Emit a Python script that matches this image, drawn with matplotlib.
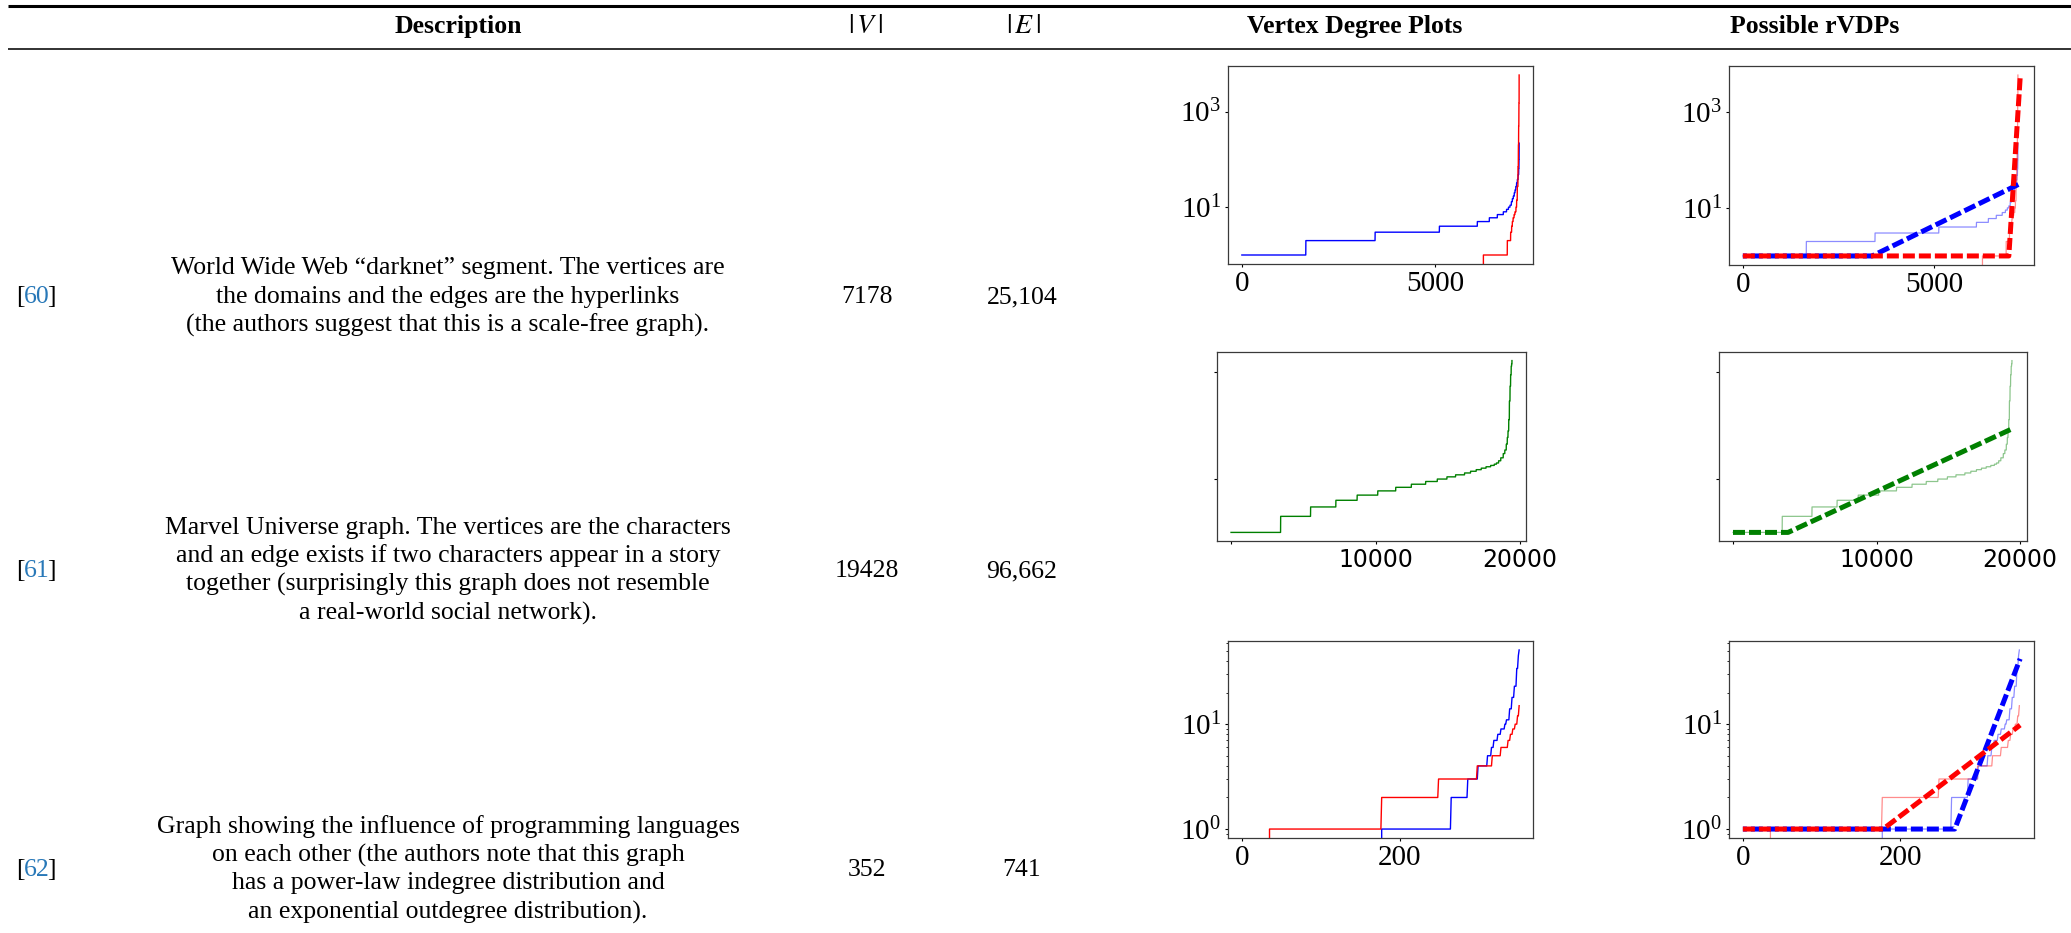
import numpy as np
import matplotlib
matplotlib.use("Agg")
import matplotlib.pyplot as plt
from matplotlib.ticker import NullLocator, NullFormatter, LogLocator

W, H, DPI = 2071, 933, 100

plt.rcParams['font.family'] = ['Liberation Serif', 'DejaVu Serif']
plt.rcParams['mathtext.fontset'] = 'stix'

# ---------------- table text ----------------
headers = ['Description', r'$|\,V\,|$', r'$|\,E\,|$', 'Vertex Degree Plots', 'Possible rVDPs']
refs = ['60', '61', '62']
descriptions = [
    ['World Wide Web \u201cdarknet\u201d segment. The vertices are',
     'the domains and the edges are the hyperlinks',
     '(the authors suggest that this is a scale-free graph).'],
    ['Marvel Universe graph. The vertices are the characters',
     'and an edge exists if two characters appear in a story',
     'together (surprisingly this graph does not resemble',
     'a real-world social network).'],
    ['Graph showing the influence of programming languages',
     'on each other (the authors note that this graph',
     'has a power-law indegree distribution and',
     'an exponential outdegree distribution).'],
]
n_vertices = ['7178', '19428', '352']
n_edges = ['25,104', '96,662', '741']

# ---------------- degree sequences (first index of each run, degree) ----------------
darknet_n = 7178
darknet_blue_idx = [0, 1655, 3448, 5112, 6094, 6405, 6612, 6767, 6850, 6900, 6940, 6975,
                    7000, 7025, 7050, 7070, 7090, 7110, 7130, 7150, 7165, 7172, 7176]
darknet_blue_deg = [1, 2, 3, 4, 5, 6, 7, 8, 9, 10, 11, 13,
                    15, 17, 20, 23, 27, 32, 38, 48, 65, 100, 218]
darknet_red_idx = [0, 6250, 6870, 6956, 6982, 7000, 7020, 7045, 7068, 7094, 7111,
                   7128, 7146, 7156, 7163, 7170, 7177]
darknet_red_deg = [0, 1, 2, 3, 4, 5, 6, 7, 8, 10, 14,
                   27, 70, 200, 500, 1500, 5800]
darknet_fit_blue_x = [0, 3373, 7235]
darknet_fit_blue_y = [1, 1, 32]
darknet_fit_red_x = [0, 6940, 7235]
darknet_fit_red_y = [1, 1, 5000]

marvel_n = 19428
marvel_idx = [0, 3425, 5497, 7245, 8717, 10143, 11385, 12466, 13455, 14260, 14927,
              15525, 16146, 16560, 16951, 17300, 17630, 17950, 18200, 18350, 18500,
              18650, 18820, 18930, 19030, 19100, 19150, 19200, 19245, 19290, 19330,
              19370, 19400, 19427]
marvel_deg = [1, 2, 3, 4, 5, 6, 7, 8, 9, 10, 11,
              12, 13, 14, 15, 16, 17, 18, 19, 20, 22,
              25, 30, 35, 45, 60, 80, 130, 290, 550, 900,
              1300, 1450, 1660]
marvel_fit_x = [0, 3837, 19500]
marvel_fit_y = [1, 1, 89]

plang_n = 352
plang_blue_idx = [0, 177, 265, 286, 299, 311, 316, 319, 324, 328, 333, 335, 339, 342, 345, 348, 350, 351]
plang_blue_deg = [0, 1, 2, 3, 4, 5, 6, 7, 8, 9, 10, 11, 14, 18, 23, 34, 45, 51]
plang_red_idx = [0, 35, 177, 249, 298, 317, 328, 337, 340, 343, 346, 349, 351]
plang_red_deg = [0, 1, 2, 3, 4, 5, 6, 7, 8, 9, 10, 12, 15]
plang_fit_blue_x = [0, 269, 352]
plang_fit_blue_y = [1, 1, 42]
plang_fit_red_x = [0, 178, 352]
plang_fit_red_y = [1, 1, 9.8]


def expand(idx, deg, n):
    counts = np.diff(list(idx) + [n])
    return np.repeat(deg, counts)


# ---------------- figure & table frame ----------------
fig = plt.figure(figsize=(W / DPI, H / DPI), dpi=DPI)
bg = fig.add_axes([0, 0, 1, 1])
bg.set_xlim(0, W)
bg.set_ylim(H, 0)
bg.axis('off')

bg.plot([8, W], [5.5, 5.5], color='black', lw=2.2, solid_capstyle='butt')
bg.plot([8, W], [48.5, 48.5], color='#222222', lw=1.3, solid_capstyle='butt')

TFONT = 'Liberation Serif'
TSIZE = 18.5
header_x = [458, 865, 1023, 1355, 1815]
header_size = [18.5, 20, 20, 18.5, 18.5]
for hx, htxt, hs in zip(header_x, headers, header_size):
    bg.text(hx, 33, htxt, ha='center', va='baseline', fontfamily=TFONT,
            fontweight='bold', fontsize=hs)

ref_x, desc_x, v_x, e_x = 37, 448, 867, 1022
row_line_y = [[268, 297, 325], [528, 556, 584, 613], [827, 855, 883, 912]]
row_mid_y = [297, 571, 870]
link_color = '#2878b8'

for i in range(3):
    for ly, line in zip(row_line_y[i], descriptions[i]):
        bg.text(desc_x, ly, line, ha='center', va='center', fontfamily=TFONT, fontsize=TSIZE)
    ym = row_mid_y[i]
    bg.text(v_x, ym, n_vertices[i], ha='center', va='center', fontfamily=TFONT, fontsize=TSIZE)
    bg.text(e_x, ym, n_edges[i], ha='center', va='center', fontfamily=TFONT, fontsize=TSIZE)
    # "[ref]" with the number coloured as a link
    num = bg.text(ref_x, ym, refs[i], ha='center', va='center', fontfamily=TFONT,
                  fontsize=TSIZE, color=link_color)
    bg.annotate('[', xy=(0, 0.5), xycoords=num, ha='right', va='center',
                xytext=(0.6, 0), textcoords='offset points',
                fontfamily=TFONT, fontsize=TSIZE)
    bg.annotate(']', xy=(1, 0.5), xycoords=num, ha='left', va='center',
                xytext=(-2.2, 0), textcoords='offset points',
                fontfamily=TFONT, fontsize=TSIZE)


# ---------------- plot panels ----------------
def panel(box):
    l, t, r, b = box
    ax = fig.add_axes([l / W, 1 - b / H, (r - l) / W, (b - t) / H])
    ax.set_yscale('log')
    for s in ax.spines.values():
        s.set_color('#3a3a3a')
        s.set_linewidth(0.9)
    ax.tick_params(which='major', length=2.5, width=0.8, labelsize=21, pad=2.5)
    ax.tick_params(which='minor', length=1.5, width=0.6)
    return ax


THIN = 1.0
LIGHT = dict(lw=0.9, alpha=0.45)
FIT_LW = 3.6
DASH = (0, (2.4, 0.8))
DASH_SHIFT = (1.6, (2.4, 0.8))

# row 1: darknet
dk_x = np.arange(darknet_n)
dk_blue = expand(darknet_blue_idx, darknet_blue_deg, darknet_n)
dk_red = expand(darknet_red_idx, darknet_red_deg, darknet_n)

ax1 = panel((1228, 66, 1533, 264))
ax1.plot(dk_x, dk_blue, color='blue', lw=THIN)
ax1.plot(dk_x, dk_red, color='red', lw=THIN)

ax2 = panel((1729, 66, 2034, 265))
ax2.plot(dk_x, dk_blue, color='blue', **LIGHT)
ax2.plot(dk_x, dk_red, color='red', **LIGHT)
ax2.plot(darknet_fit_blue_x, darknet_fit_blue_y, color='blue', lw=FIT_LW, linestyle=DASH_SHIFT)
ax2.plot(darknet_fit_red_x, darknet_fit_red_y, color='red', lw=FIT_LW, linestyle=DASH)

for ax in (ax1, ax2):
    ax.set_yticks([10, 1000])
    ax.yaxis.set_minor_locator(NullLocator())
    ax.set_xticks([0, 5000])

# row 2: Marvel
mv_x = np.arange(marvel_n)
mv = expand(marvel_idx, marvel_deg, marvel_n)

ax3 = panel((1217, 352, 1526, 541))
ax3.plot(mv_x, mv, color='green', lw=THIN)

ax4 = panel((1719, 352, 2027, 541))
ax4.plot(mv_x, mv, color='green', **LIGHT)
ax4.plot(marvel_fit_x, marvel_fit_y, color='green', lw=FIT_LW, linestyle=DASH)

for ax in (ax3, ax4):
    ax.set_yticks([10, 1000])
    ax.yaxis.set_major_formatter(NullFormatter())
    ax.yaxis.set_minor_locator(NullLocator())
    ax.set_xticks([0, 10000, 20000], labels=['', '10000', '20000'],
                  fontfamily='DejaVu Sans', fontsize=17)

# row 3: programming languages
pl_x = np.arange(plang_n)
pl_blue = expand(plang_blue_idx, plang_blue_deg, plang_n)
pl_red = expand(plang_red_idx, plang_red_deg, plang_n)

ax5 = panel((1228, 641, 1533, 838))
ax5.plot(pl_x, pl_blue, color='blue', lw=THIN)
ax5.plot(pl_x, pl_red, color='red', lw=THIN)

ax6 = panel((1729, 641, 2034, 838))
ax6.plot(pl_x, pl_blue, color='blue', **LIGHT)
ax6.plot(pl_x, pl_red, color='red', **LIGHT)
ax6.plot(plang_fit_blue_x, plang_fit_blue_y, color='blue', lw=FIT_LW, linestyle=DASH_SHIFT)
ax6.plot(plang_fit_red_x, plang_fit_red_y, color='red', lw=FIT_LW, linestyle=DASH)

for ax in (ax5, ax6):
    ax.set_yticks([1, 10])
    ax.yaxis.set_minor_locator(LogLocator(base=10, subs=np.arange(2, 10)))
    ax.yaxis.set_minor_formatter(NullFormatter())
    ax.set_xticks([0, 200])

fig.savefig('out.png', dpi=DPI)
